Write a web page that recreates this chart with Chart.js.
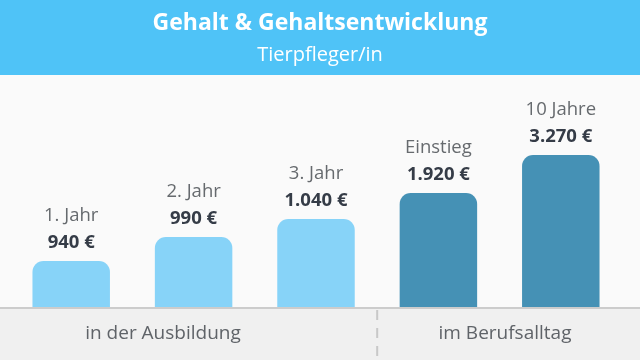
<!DOCTYPE html>
<html>
<head>
<meta charset="utf-8">
<script src="https://cdn.jsdelivr.net/npm/chart.js@4/dist/chart.umd.min.js"></script>
<style>
html,body{margin:0;padding:0;background:#fafafa;}
canvas{display:block;}
</style>
</head>
<body>
<canvas id="c" width="640" height="360"></canvas>
<script>
const titleText = "Gehalt & Gehaltsentwicklung";
const subtitleText = "Tierpfleger/in";
const categories = ["1. Jahr", "2. Jahr", "3. Jahr", "Einstieg", "10 Jahre"];
const valueLabels = ["940 €", "990 €", "1.040 €", "1.920 €", "3.270 €"];
const salaries = [940, 990, 1040, 1920, 3270];
// bar heights as drawn in the picture (stylised, not proportional)
const barHeights = [47, 71, 89, 115, 153];
const groups = ["in der Ausbildung", "im Berufsalltag"];
const groupSizes = [3, 2];
const barColors = ["#87d3f8", "#87d3f8", "#87d3f8", "#4591b5", "#4591b5"];

const FONT = "'Open Sans', 'Noto Sans', sans-serif";

const decor = {
  id: 'decor',
  beforeDraw(chart) {
    const ctx = chart.ctx;
    ctx.save();
    ctx.fillStyle = '#fafafa';
    ctx.fillRect(0, 0, 640, 360);
    ctx.fillStyle = '#4fc3f7';
    ctx.fillRect(0, 0, 640, 75);
    ctx.fillStyle = '#ffffff';
    ctx.textAlign = 'center';
    ctx.textBaseline = 'middle';
    ctx.font = "bold 23px " + FONT;
    ctx.fillText(titleText, 320, 23);
    ctx.font = "20px " + FONT;
    ctx.fillText(subtitleText, 320, 55);
    // bottom band
    const bottom = chart.chartArea.bottom;
    ctx.fillStyle = '#f0f0f0';
    ctx.fillRect(0, bottom, 640, 360 - bottom);
    ctx.restore();
  },
  afterDatasetsDraw(chart) {
    const ctx = chart.ctx;
    const meta = chart.getDatasetMeta(0);
    const bottom = chart.chartArea.bottom;
    ctx.save();
    ctx.fillStyle = '#cccccc';
    ctx.fillRect(0, bottom - 1, 640, 2);
    ctx.textAlign = 'center';
    ctx.textBaseline = 'middle';
    meta.data.forEach((bar, i) => {
      ctx.fillStyle = '#666a6e';
      ctx.font = "18.5px " + FONT;
      ctx.fillText(categories[i], bar.x, bar.y - 45);
      ctx.fillStyle = '#353c47';
      ctx.font = "bold 18.5px " + FONT;
      ctx.fillText(valueLabels[i], bar.x, bar.y - 18);
    });
    // group separator
    const sepIdx = groupSizes[0];
    const sepX = (meta.data[sepIdx - 1].x + meta.data[sepIdx].x) / 2 - 0;
    ctx.strokeStyle = '#c8c8c8';
    ctx.lineWidth = 2;
    ctx.setLineDash([10, 8]);
    ctx.beginPath();
    ctx.moveTo(sepX, bottom + 2);
    ctx.lineTo(sepX, 360);
    ctx.stroke();
    ctx.setLineDash([]);
    ctx.fillStyle = '#5f6368';
    ctx.font = "19px " + FONT;
    ctx.fillText(groups[0], 163, 334);
    ctx.fillText(groups[1], 505, 334);
    ctx.restore();
  }
};

new Chart(document.getElementById('c'), {
  type: 'bar',
  data: {
    labels: categories,
    datasets: [{
      data: barHeights,
      backgroundColor: barColors,
      borderRadius: 11,
      borderSkipped: 'bottom',
      barPercentage: 0.633,
      categoryPercentage: 1.0
    }]
  },
  options: {
    responsive: false,
    animation: false,
    devicePixelRatio: 1,
    layout: { padding: { top: 80, bottom: 52, left: 10, right: 18 } },
    plugins: { legend: { display: false }, tooltip: { enabled: false }, title: { display: false } },
    scales: {
      x: { display: false },
      y: { display: false, min: 0, max: 228 }
    }
  },
  plugins: [decor]
});
</script>
</body>
</html>
